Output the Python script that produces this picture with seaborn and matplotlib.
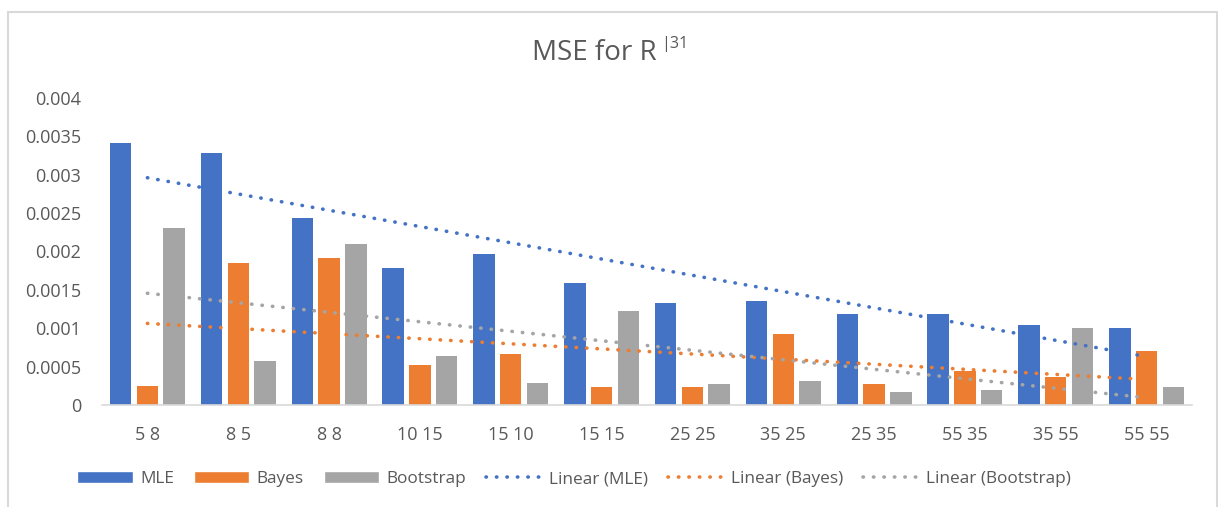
import numpy as np
import pandas as pd
import seaborn as sns
import matplotlib
matplotlib.use("Agg")
import matplotlib.pyplot as plt
from matplotlib.patches import Patch, Rectangle
from matplotlib.lines import Line2D

# sample-size pairs (m n) on the category axis
categories = ["5 8", "8 5", "8 8", "10 15", "15 10", "15 15",
              "25 25", "35 25", "25 35", "55 35", "35 55", "55 55"]

# mean squared error of each estimator
mle = [0.00341, 0.00328, 0.00243, 0.00179, 0.00197, 0.00159,
       0.00133, 0.00135, 0.00118, 0.00118, 0.00104, 0.00100]
bayes = [0.00025, 0.00185, 0.00191, 0.00052, 0.00066, 0.00023,
         0.00023, 0.00093, 0.00027, 0.00044, 0.00037, 0.00071]
bootstrap = [0.00230, 0.00057, 0.00210, 0.00064, 0.00029, 0.00122,
             0.00027, 0.00031, 0.00017, 0.00019, 0.00100, 0.00024]

methods = ["MLE", "Bayes", "Bootstrap"]
colors = ["#4472C4", "#ED7D31", "#A5A5A5"]
text_color = "#595959"

df = pd.DataFrame({
    "pair": categories * 3,
    "mse": mle + bayes + bootstrap,
    "method": np.repeat(methods, len(categories)),
})

sns.set_theme(style="white")
plt.rcParams["font.family"] = ["Open Sans", "DejaVu Sans"]

W, H = 1218, 507
fig = plt.figure(figsize=(W / 100, H / 100), dpi=100)
ax = fig.add_axes([102 / W, 1 - 405 / H, 1090 / W, 307 / H])

sns.barplot(data=df, x="pair", y="mse", hue="method", order=categories,
            hue_order=methods, palette=colors, width=0.885, dodge=True,
            saturation=1, ax=ax, legend=False)

# narrow each bar a little so gaps show between neighbours
bar_w = 0.236
for p in ax.patches:
    cx = p.get_x() + p.get_width() / 2
    p.set_width(bar_w)
    p.set_x(cx - bar_w / 2)
    p.set_edgecolor("none")

# linear trend line for each estimator
xs = np.arange(len(categories))
dot_style = (0, (0.1, 2.8))
for vals, col in zip([mle, bayes, bootstrap], colors):
    sns.regplot(x=xs, y=np.array(vals), ax=ax, scatter=False, ci=None,
                truncate=True, color=col,
                line_kws={"linestyle": dot_style, "linewidth": 2.6,
                          "dash_capstyle": "round"})

ax.set_xlim(-0.5, len(categories) - 0.5)
ax.set_ylim(0, 0.004)
ax.set_yticks(np.arange(0, 0.00401, 0.0005))
ax.set_yticklabels(["0", "0.0005", "0.001", "0.0015", "0.002", "0.0025",
                    "0.003", "0.0035", "0.004"])
ax.set_xticks(xs)
ax.set_xticklabels(categories)
ax.set_xlabel("")
ax.set_ylabel("")
ax.tick_params(axis="both", length=0, labelsize=13, colors=text_color)
ax.tick_params(axis="y", pad=15)
ax.tick_params(axis="x", pad=15)
for side in ["top", "right", "left"]:
    ax.spines[side].set_visible(False)
ax.spines["bottom"].set_color("#D9D9D9")
ax.spines["bottom"].set_linewidth(1.2)
ax.grid(False)

# title with superscript
title = fig.text(532 / W, 1 - 59.5 / H, "MSE for R", fontsize=20,
                 color=text_color, ha="left", va="baseline")
renderer = fig.canvas.get_renderer()
bb = title.get_window_extent(renderer)
fig.text((bb.x1 + 4) / W, 1 - 48.5 / H, "|31", fontsize=11.5,
         color=text_color, ha="left", va="baseline")

handles = [Patch(facecolor=c, label=m) for m, c in zip(methods, colors)]
handles += [Line2D([0], [0], color=c, linestyle=dot_style, linewidth=2.6,
                   dash_capstyle="round", label=f"Linear ({m})")
            for m, c in zip(methods, colors)]
fig.legend(handles=handles, loc="center", bbox_to_anchor=(574 / W, 1 - 479 / H),
           ncol=6, frameon=False, fontsize=12.4, handlelength=3.2,
           handleheight=0.75, handletextpad=0.45, columnspacing=1.15,
           labelcolor=text_color, borderaxespad=0)

# chart-area frame
fig.add_artist(Rectangle((7.5 / W, -0.05), 1209 / W, 1.05 - 11.5 / H,
                         transform=fig.transFigure, fill=False,
                         edgecolor="#D9D9D9", linewidth=1.5))

fig.savefig("out.png", dpi=100)
